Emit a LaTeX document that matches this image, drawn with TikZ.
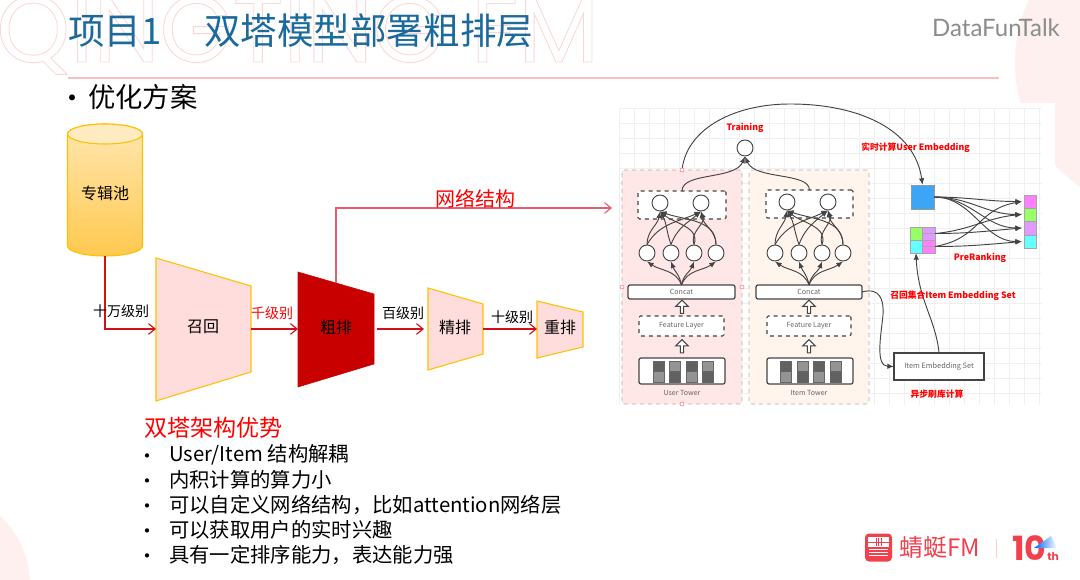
\documentclass[tikz,border=0pt]{standalone}
\usepackage{fontspec}
\setmainfont{Noto Sans CJK SC}
\newfontfamily\latinb{Poppins}
\newfontfamily\dfont{Lato}
\usetikzlibrary{arrows.meta,shapes.arrows,calc}
\definecolor{titleblue}{HTML}{1A6A9E}
\definecolor{lineP}{HTML}{F9BFBF}
\definecolor{blob}{HTML}{FDF0EE}
\definecolor{wm}{HTML}{FAD6D6}
\definecolor{trap}{HTML}{FFDDDD}
\definecolor{trapb}{HTML}{FFC000}
\definecolor{darkred}{HTML}{C80000}
\definecolor{flow}{HTML}{D0101A}
\definecolor{upline}{HTML}{E4606D}
\definecolor{net}{HTML}{444444}
\definecolor{logo}{HTML}{F0414C}
\definecolor{cyltop}{HTML}{FFE6B0}
\definecolor{cylbot}{HTML}{FFC94F}
\definecolor{cyllid}{HTML}{FFEBC2}
\definecolor{tblue}{HTML}{3DA5F5}
\definecolor{tpink}{HTML}{FF80FF}
\definecolor{tgreen}{HTML}{99FF66}
\definecolor{tviolet}{HTML}{E199FF}
\definecolor{tcyan}{HTML}{66FFFF}
\newcommand{\bx}[7]{\path node[#6,minimum width={(#4-#2)*0.75pt},minimum height={(#5-#3)*0.75pt},inner sep=0pt,outer sep=0pt] (#1) at ({(#2+#4)/2},{(#3+#5)/2}) {#7};}
\newcommand{\fs}[1]{\fontsize{#1}{#1}\selectfont}
\tikzset{
 lab/.style={inner sep=0pt,font=\fs{10.5}},
 trapz/.style={draw=trapb,fill=trap,line width=0.8pt},
 flowln/.style={draw=flow,line width=0.85pt,-{Straight Barb[length=5pt,width=8pt]}},
 neuron/.style={circle,draw=net,fill=white,line width=0.7pt,minimum size=12pt,inner sep=0pt},
 dashbox/.style={draw=net,fill=white,dashed,line width=0.8pt,rounded corners=1pt},
 solidbox/.style={draw=net,fill=white,line width=0.9pt,rounded corners=1.5pt},
 netln/.style={draw=net,line width=0.7pt,-{Latex[length=5pt,width=4pt]}},
 hollow/.style={single arrow,draw=net,fill=white,line width=0.8pt,shape border rotate=90,minimum height=10pt,minimum width=9.5pt,single arrow head extend=1.2pt,inner sep=0pt},
 netlab/.style={inner sep=0pt,text=black!60,font=\fs{5.3}},
 redlab/.style={inner sep=0pt,text=red,font=\fs{6.6}\bfseries},
 cellb/.style={draw=black!60,line width=0.6pt,fill=black!62},
 celll/.style={draw=black!60,line width=0.6pt,fill=black!42},
 tile/.style={draw=black!35,line width=0.6pt},
 port/.style={circle,draw=red!55,fill=white,line width=0.4pt,minimum size=3pt,inner sep=0pt},
 item/.style={inner sep=0pt,anchor=west,font=\fs{15.25}},
 itembul/.style={inner sep=0pt,font=\fs{15}},
}
\begin{document}
\begin{tikzpicture}[x=0.75pt,y=-0.75pt]
\useasboundingbox (0,0) rectangle (1080,580);
\fill[white] (0,0) rectangle (1080,580);
\begin{scope}
\clip (0,0) rectangle (1080,580);
\fill[blob] (1165,63) circle (150);
\fill[blob] (-65,585) circle (95);
\node[inner sep=0pt,anchor=base west,text=wm] (wmark) at (-4,62) {\special{pdf:code 1 Tr 0.6 w}\latinb\fs{70.5}QINGTING FM\special{pdf:code 0 Tr}};
\end{scope}
% header
\coordinate (ruleL) at (68,78); \coordinate (ruleR) at (999,78);
\draw[lineP,line width=0.8pt] (ruleL) -- (ruleR);
\node[inner sep=0pt,text=titleblue,anchor=west,font=\fs{27.4}] (t1) at (68,31) {项目1};
\node[inner sep=0pt,text=titleblue,anchor=west,font=\fs{27.4}] (t2) at (204,31) {双塔模型部署粗排层};
\node[inner sep=0pt,text=black!45,font=\dfont\fs{18}] (dft) at (996,28) {DataFunTalk};
\node[inner sep=0pt,font=\fs{21}] (b0) at (72,102) {•};
\node[inner sep=0pt,anchor=west,font=\fs{20.5}] (opt) at (88,97) {优化方案};
% cylinder
\shade[top color=cyltop,bottom color=cylbot,draw=trapb,line width=0.8pt]
 (67.5,134) -- (67.5,246) arc[start angle=180,end angle=0,x radius=37.5,y radius=10] -- (142.5,134) arc[start angle=0,end angle=-180,x radius=37.5,y radius=10];
\fill[cyllid,draw=trapb,line width=0.8pt] (105,134) ellipse[x radius=37.5,y radius=10];
\node[lab,font=\fs{12}] (pool) at (105,193) {专辑池};
\coordinate (poolB) at (105,256);
% funnels
\draw[trapz] (156,258) -- (251,286) -- (251,372) -- (156,401) -- cycle;
\node[lab,font=\fs{12}] (recall) at (203,327) {召回};
\draw[fill=darkred,draw=darkred] (298,272) -- (374,294) -- (374,364) -- (298,387) -- cycle;
\node[lab,font=\fs{12}] (coarse) at (336,327) {粗排};
\draw[trapz] (428,288) -- (483,304) -- (483,354) -- (428,370) -- cycle;
\node[lab,font=\fs{12}] (fine) at (455,327) {精排};
\draw[trapz] (537,301) -- (583,312) -- (583,347) -- (537,358) -- cycle;
\node[lab,font=\fs{12}] (rerank) at (560,327) {重排};
\coordinate (recL) at (156,329); \coordinate (recR) at (251,329);
\coordinate (coaL) at (298,329); \coordinate (coaR) at (377,329);
\coordinate (fineL) at (424,329); \coordinate (fineR) at (483,329);
\coordinate (rerL) at (537,329); \coordinate (coaT) at (336,283); \coordinate (netIn) at (612,208);
\draw[flowln,rounded corners=0pt] (poolB) |- (recL);
\draw[flowln] (recR) -- (coaL);
\draw[flowln] (coaR) -- (fineL);
\draw[flowln] (fineR) -- (rerL);
\draw[draw=upline,line width=0.8pt,-{Straight Barb[length=5pt,width=8pt]}] (coaT) |- (netIn);
\node[lab] (l1) at (121,311) {十万级别};
\node[lab,text=red] (l2) at (272,313) {千级别};
\node[lab] (l3) at (403,313) {百级别};
\node[lab] (l4) at (512,317) {十级别};
\node[lab,text=red,font=\fs{15}] (l5) at (475,199) {网络结构};
% list
\node[inner sep=0pt,anchor=west,text=red,font=\fs{17.3}] (adv) at (144,428) {双塔架构优势};
\node[item] (i1) at (169,455) {User/Item 结构解耦};
\node[item] (i2) at (169,480) {内积计算的算力小};
\node[item] (i3) at (169,505) {可以自定义网络结构，比如attention网络层};
\node[item] (i4) at (169,530) {可以获取用户的实时兴趣};
\node[item] (i5) at (169,555) {具有一定排序能力，表达能力强};
\foreach \n/\y in {1/459,2/484,3/509,4/534,5/559} \node[itembul] (d\n) at (147,\y) {•};
% embedded figure
\fill[white] (619,103) rectangle (1055,405);
\foreach \x in {619,634,...,1042} \draw[black!6,line width=0.4pt] (\x,108) -- (\x,405);
\foreach \y in {108,123,...,405} \draw[black!6,line width=0.4pt] (619,\y) -- (1042,\y);
\bx{ubox}{622}{170}{742}{404}{draw=black!30,dashed,fill=red!10,fill opacity=0.9,rounded corners=1.5pt,line width=0.7pt}{}
\bx{ibox}{749}{170}{869}{404}{draw=black!30,dashed,fill=orange!8,fill opacity=0.9,rounded corners=1.5pt,line width=0.7pt}{}
\node[port] (p1) at (682,170) {};
\node[port] (p2) at (622,287) {};
\node[port] (p3) at (742,287) {};
\node[port] (p4) at (682,404) {};
\node[neuron] (out) at (745,148) {};
\node[redlab] (train) at (745,128) {Training};
\bx{utop}{638}{191}{726}{219}{dashbox}{}
\bx{itop}{766}{190}{853}{218}{dashbox}{}
\node[neuron] (ut1) at (660,203) {}; \node[neuron] (ut2) at (701,203) {};
\node[neuron] (it1) at (787,202) {}; \node[neuron] (it2) at (828,202) {};
\foreach \n/\x in {1/647,2/671,3/694,4/716} \node[neuron] (uh\n) at (\x,253) {};
\foreach \n/\x in {1/775,2/799,3/822,4/843} \node[neuron] (ih\n) at (\x,253) {};
\bx{uconcat}{628}{285}{735}{299}{solidbox}{\color{black!60}\fs{5.3}Concat}
\bx{iconcat}{756}{285}{862}{299}{solidbox}{\color{black!60}\fs{5.3}Concat}
\bx{ufeat}{639}{316}{724}{336}{dashbox}{\color{black!60}\fs{5.3}Feature Layer}
\bx{ifeat}{767}{316}{851}{336}{dashbox}{\color{black!60}\fs{5.3}Feature Layer}
\bx{utow}{639}{358}{725}{384}{solidbox}{}
\bx{itow}{767}{358}{853}{384}{solidbox}{}
\node[hollow] (ua1) at (682,307.5) {}; \node[hollow] (ua2) at (682,347) {};
\node[hollow] (ia1) at (809,307.5) {}; \node[hollow] (ia2) at (809,347) {};
\foreach \n/\x/\a/\b in {1/653/cellb/celll,2/669/celll/cellb,3/686/cellb/celll,4/702/celll/cellb}{
 \pgfmathsetmacro{\xe}{\x+11}
 \bx{uca\n}{\x}{361}{\xe}{371.5}{\a}{}
 \bx{ucb\n}{\x}{371.5}{\xe}{382}{\b}{}
}
\foreach \n/\x/\a/\b in {1/780/cellb/celll,2/797/celll/cellb,3/813/cellb/celll,4/830/celll/cellb}{
 \pgfmathsetmacro{\xe}{\x+11}
 \bx{ica\n}{\x}{361}{\xe}{371.5}{\a}{}
 \bx{icb\n}{\x}{371.5}{\xe}{382}{\b}{}
}
\node[netlab] (ut) at (682,393) {User Tower};
\node[netlab] (it) at (809,393) {Item Tower};
% tower connectors
\foreach \p in {u,i}{
 \foreach \h/\oa/\ia in {1/90/-100,2/110/-60,3/70/-40,4/90/-20}{
  \draw[netln] (\p h\h.north) to[out=\oa,in=\ia] (\p t1.south);
 }
 \foreach \h/\oa/\ia in {1/60/205,2/70/220,3/110/-70,4/90/-80}{
  \draw[netln] (\p h\h.north) to[out=\oa,in=\ia] (\p t2.south);
 }
 \draw[netln] (\p concat.north) to[out=110,in=-35] (\p h1.south);
 \draw[netln] (\p concat.north) to[out=100,in=-70] (\p h2.south);
 \draw[netln] (\p concat.north) to[out=80,in=-110] (\p h3.south);
 \draw[netln] (\p concat.north) to[out=70,in=-145] (\p h4.south);
}
\draw[netln] (utop.north) .. controls (682,172) and (735,180) .. (out.south);
\draw[netln] (itop.north) .. controls (809,172) and (755,180) .. (out.south);
% right part
\bx{uemb}{911}{185}{934}{209}{draw=black!40,fill=tblue,line width=0.7pt}{}
\bx{g1}{910}{227}{922}{240}{tile,fill=tgreen}{}
\bx{g2}{910}{240}{922}{253}{tile,fill=tcyan}{}
\bx{s1}{922}{227}{935}{233.5}{tile,fill=tviolet}{}
\bx{s2}{922}{233.5}{935}{240}{tile,fill=tviolet}{}
\bx{s3}{922}{240}{935}{246.5}{tile,fill=tpink}{}
\bx{s4}{922}{246.5}{935}{253}{tile,fill=tpink}{}
\bx{r1}{1024}{195}{1036}{208}{tile,fill=tpink}{}
\bx{r2}{1024}{208}{1036}{221}{tile,fill=tgreen}{}
\bx{r3}{1024}{221}{1036}{235}{tile,fill=tviolet}{}
\bx{r4}{1024}{235}{1036}{248}{tile,fill=tcyan}{}
\bx{iset}{894}{353}{984}{380}{draw=net,fill=white,line width=0.8pt}{\color{black!60}\fs{5.5}Item Embedding Set}
\foreach \n in {1,2,3,4}{ \draw[netln] (uemb.east) to[out=0,in=180] ([xshift=-1.5pt]r\n.west); }
\draw[netln] (s1.south east) to[out=5,in=185] ([xshift=-1.5pt]r2.west);
\draw[netln] (s1.south east) to[out=0,in=185] ([xshift=-1.5pt]r3.west);
\draw[netln] (s3.south east) to[out=10,in=190,looseness=1.2] ([xshift=-1.5pt]r1.west);
\draw[netln] (s3.south east) to[out=0,in=185] ([xshift=-1.5pt]r4.west);
\draw[netln] (p1) .. controls (688,128) and (735,104) .. (790,104) .. controls (860,104) and (915,130) .. (uemb.north);
\draw[netln] (iconcat.east) .. controls (880,287) and (884,300) .. (883,315) .. controls (881,335) and (875,366) .. (iset.west);
\draw[netln] (iset.north) .. controls (936,320) and (918,300) .. (g2.south);
\node[redlab] (rt) at (915.5,148) {实时计算User Embedding};
\node[redlab] (pr) at (980,258) {PreRanking};
\node[redlab] (rc) at (953,296) {召回集合Item Embedding Set};
\node[redlab] (as) at (937,394) {异步刷库计算};
% logo
\bx{logob}{865}{533.5}{892}{561.5}{fill=logo,rounded corners=3pt}{}
\fill[white] (868,537) rectangle (889,547);
\foreach \y in {549.5,552.5,555.5} \draw[white,line width=0.5pt] (869,\y) -- (888,\y);
\draw[logo,line width=0.6pt] (868,542) -- (889,542) (876,538) -- (876,546) (878.5,538) -- (878.5,546) (881,538) -- (881,546);
\node[inner sep=0pt,anchor=west,text=logo,font=\fs{18}] (lg) at (899,547) {蜻蜓FM};
\coordinate (sepT) at (996,539); \coordinate (sepB) at (996,558);
\draw[red!20,line width=0.7pt] (sepT) -- (sepB);
\node[inner sep=0pt,anchor=west,text=logo,font=\latinb\bfseries\fs{25}] (ten) at (1012,548) {10};
\shade[left color=blue!60!cyan,right color=white] (1034,548) -- (1051,536) -- (1057,548) -- cycle;
\node[inner sep=0pt,anchor=west,text=logo,font=\latinb\bfseries\fs{8}] (th) at (1047,557) {th};
\end{tikzpicture}
\end{document}
